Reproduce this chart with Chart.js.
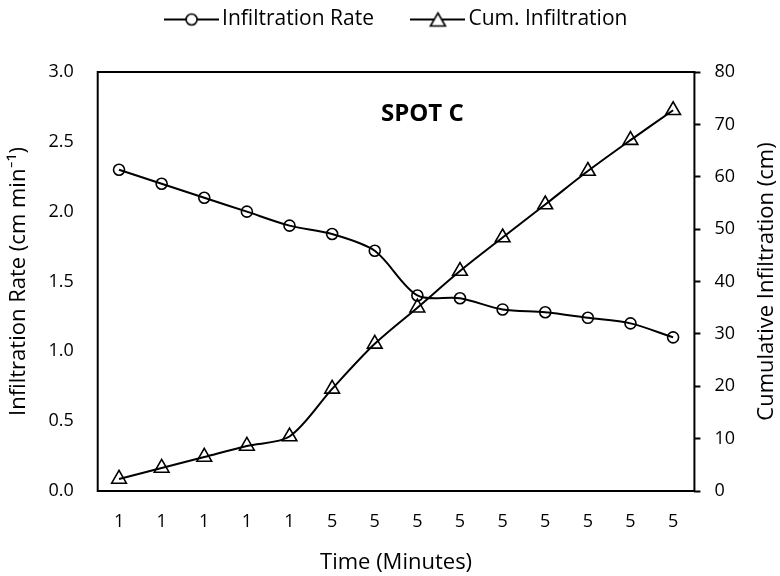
<!DOCTYPE html>
<html>
<head>
<meta charset="utf-8">
<script src="https://cdn.jsdelivr.net/npm/chart.js@4.4.0/dist/chart.umd.min.js"></script>
<style>
  html, body { margin: 0; padding: 0; background: #fff; }
  #wrap { width: 780px; height: 576px; }
</style>
</head>
<body>
<div id="wrap"><canvas id="chart" width="780" height="576"></canvas></div>
<script>
const timeLabels = ['1', '1', '1', '1', '1', '5', '5', '5', '5', '5', '5', '5', '5', '5'];
const infiltrationRate = [2.30, 2.20, 2.10, 2.00, 1.90, 1.84, 1.72, 1.40, 1.38, 1.30, 1.28, 1.24, 1.20, 1.10];
const cumInfiltration = [2.3, 4.4, 6.5, 8.6, 10.4, 19.5, 28.1, 35.0, 42.0, 48.4, 54.7, 61.1, 67.0, 72.7];
const rateTicks = [0, 0.5, 1.0, 1.5, 2.0, 2.5, 3.0];
const cumTicks = [0, 10, 20, 30, 40, 50, 60, 70, 80];

const FONT = "'Open Sans', Lato, sans-serif";
const RIGHT_TITLE = 'Cumulative Infiltration (cm)';

// small legend icons: line with marker in the middle
function legendIcon(kind) {
    const c = document.createElement('canvas');
    c.width = 55; c.height = 18;
    const g = c.getContext('2d');
    g.strokeStyle = '#000';
    g.lineWidth = 2;
    g.beginPath(); g.moveTo(0, 9); g.lineTo(55, 9); g.stroke();
    g.lineWidth = 1.6;
    g.fillStyle = '#fff';
    g.beginPath();
    if (kind === 'circle') {
        g.arc(27.5, 9, 5.5, 0, Math.PI * 2);
    } else {
        g.moveTo(27.5, 2.5); g.lineTo(35, 15.5); g.lineTo(20, 15.5); g.closePath();
    }
    g.fill(); g.stroke();
    return c;
}

// extra space under the legend
const legendGap = {
    id: 'legendGap',
    beforeInit(chart) {
        const fit = chart.legend.fit;
        chart.legend.fit = function () {
            fit.bind(chart.legend)();
            this.height += 32;
        };
    }
};

const frame = {
    id: 'frame',
    afterDraw(chart) {
        const a = chart.chartArea, ctx = chart.ctx;
        ctx.save();
        ctx.strokeStyle = '#000';
        ctx.lineWidth = 2;
        ctx.strokeRect(a.left, a.top, a.right - a.left, a.bottom - a.top);
        ctx.fillStyle = '#000';
        ctx.textAlign = 'center';
        ctx.textBaseline = 'middle';
        ctx.font = 'bold 24px ' + FONT;
        ctx.fillText('SPOT C', a.left + (a.right - a.left) * 0.544, a.top + 42);
        // right axis title, reading bottom to top like the left one
        ctx.font = '22px ' + FONT;
        ctx.translate(chart.width - 13, (a.top + a.bottom) / 2);
        ctx.rotate(-Math.PI / 2);
        ctx.fillText(RIGHT_TITLE, 0, 0);
        ctx.restore();
    }
};

new Chart(document.getElementById('chart'), {
    type: 'line',
    data: {
        labels: timeLabels,
        datasets: [{
            label: 'Infiltration Rate',
            data: infiltrationRate,
            yAxisID: 'y',
            borderColor: '#000',
            borderWidth: 2,
            backgroundColor: '#fff',
            pointStyle: 'circle',
            pointRadius: 5.5,
            pointBorderWidth: 1.6,
            pointBackgroundColor: 'rgba(255,255,255,0)',
            tension: 0.3,
            fill: false
        }, {
            label: 'Cum. Infiltration',
            data: cumInfiltration,
            yAxisID: 'y1',
            borderColor: '#000',
            borderWidth: 2,
            backgroundColor: '#fff',
            pointStyle: 'triangle',
            pointRadius: 8.5,
            pointBorderWidth: 1.6,
            pointBackgroundColor: 'rgba(255,255,255,0)',
            tension: 0.3,
            fill: false
        }]
    },
    options: {
        responsive: false,
        animation: false,
        layout: { padding: { left: 0, right: -19, top: 0, bottom: 0 } },
        plugins: {
            legend: {
                position: 'top',
                labels: {
                    color: '#000',
                    font: { family: FONT, size: 21 },
                    usePointStyle: true,
                    pointStyleWidth: 40,
                    boxHeight: 18,
                    padding: 9,
                    generateLabels(chart) {
                        return chart.data.datasets.map((ds, i) => ({
                            text: i === 0 ? ds.label + '\u2003\u2002\u2006' : ds.label,
                            pointStyle: legendIcon(i === 0 ? 'circle' : 'triangle'),
                            datasetIndex: i,
                            fontColor: '#000',
                            lineWidth: 0,
                            strokeStyle: 'transparent',
                            fillStyle: 'transparent'
                        }));
                    }
                }
            },
            tooltip: { enabled: false }
        },
        scales: {
            x: {
                offset: true,
                grid: { display: false },
                border: { display: false },
                ticks: { color: '#000', font: { family: FONT, size: 18 }, padding: 12 },
                title: { display: true, text: 'Time (Minutes)', color: '#000', font: { family: FONT, size: 22 }, padding: { top: 5, bottom: 0 } }
            },
            y: {
                position: 'left',
                min: 0, max: 3,
                afterBuildTicks(axis) { axis.ticks = rateTicks.map(v => ({ value: v })); },
                grid: { display: false },
                border: { display: false },
                ticks: {
                    color: '#000', font: { family: FONT, size: 18 }, padding: 16,
                    callback: v => v.toFixed(1)
                },
                title: { display: true, text: 'Infiltration Rate (cm min⁻¹)', color: '#000', font: { family: FONT, size: 22 }, padding: { top: 6, bottom: 0 } }
            },
            y1: {
                position: 'right',
                min: 0, max: 80,
                afterBuildTicks(axis) { axis.ticks = cumTicks.map(v => ({ value: v })); },
                afterFit(axis) { axis.width += 50; },
                grid: { drawOnChartArea: false, drawTicks: true, tickLength: 6, tickColor: '#000', tickWidth: 2, color: '#000' },
                border: { display: false },
                ticks: { color: '#000', font: { family: FONT, size: 18 }, padding: 14 }
            }
        }
    },
    plugins: [legendGap, frame]
});
</script>
</body>
</html>
